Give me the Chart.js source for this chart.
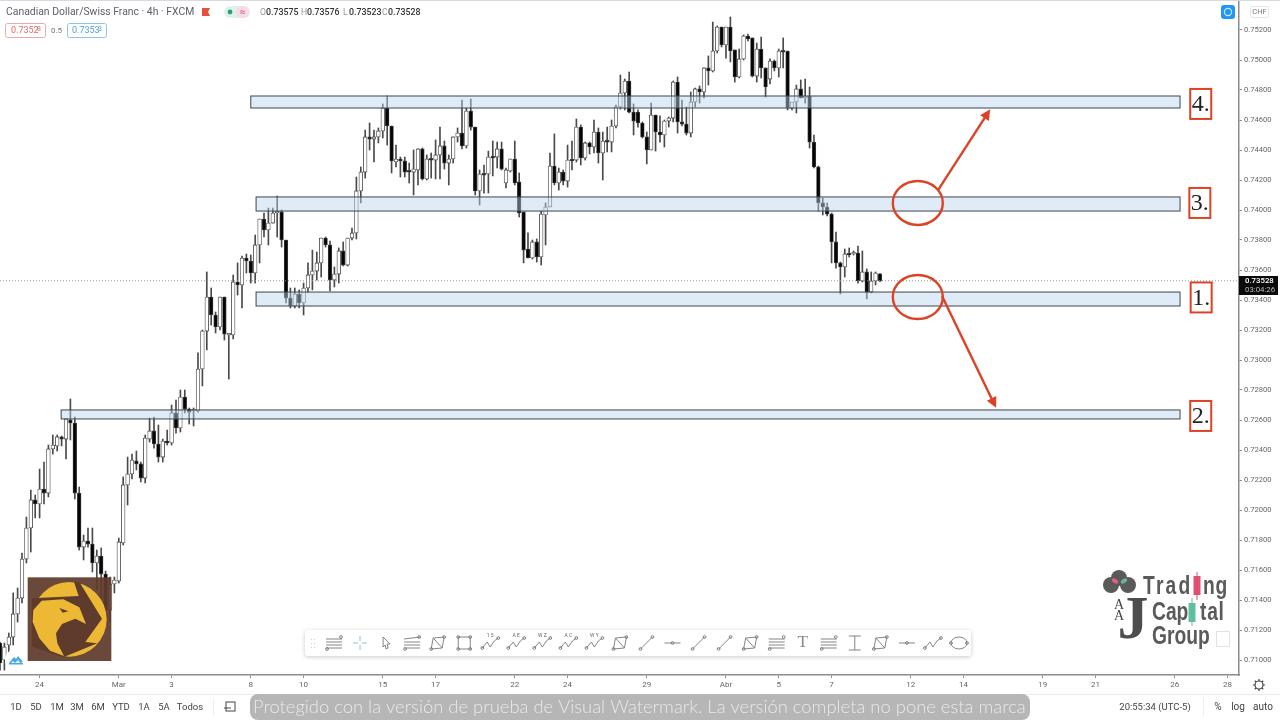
<!DOCTYPE html>
<html>
<head>
<meta charset="utf-8">
<title>CAD/CHF 4h</title>
<script src="https://cdn.jsdelivr.net/npm/chart.js@4"></script>
<style>
  html, body { margin: 0; padding: 0; background: #fff; overflow: hidden; }
  canvas { display: block; }
</style>
</head>
<body>
<canvas id="chart" width="1280" height="720"></canvas>
<script>
// === CANDLE DATA ===
const opens = [
  0.71113,0.71000,0.71100,0.71153,0.71307,0.71413,0.71673,0.71880,0.72067,0.72040,
  0.72140,0.72113,0.72407,0.72427,0.72487,0.72473,0.72600,0.72580,0.72113,0.71753,
  0.71793,0.71773,0.71647,0.71693,0.71573,0.71333,0.71507,0.71527,0.71780,0.72167,
  0.72240,0.72327,0.72307,0.72213,0.72473,0.72527,0.72440,0.72353,0.72460,0.72447,
  0.72647,0.72547,0.72753,0.72673,0.72660,0.72660,0.72940,0.73193,0.73420,0.73300,
  0.73220,0.73420,0.73167,0.73167,0.73520,0.73500,0.73680,0.73660,0.73580,0.73767,
  0.73940,0.73867,0.73913,0.73980,0.73987,0.73800,0.73413,0.73360,0.73440,0.73380,
  0.73480,0.73567,0.73593,0.73647,0.73813,0.73767,0.73533,0.73573,0.73727,0.73633,
  0.73813,0.73847,0.74127,0.74253,0.74487,0.74473,0.74487,0.74527,0.74680,0.74560,
  0.74320,0.74340,0.74327,0.74260,0.74253,0.74267,0.74407,0.74207,0.74340,0.74333,
  0.74367,0.74427,0.74313,0.74340,0.74487,0.74513,0.74427,0.74660,0.74553,0.74127,
  0.74240,0.74240,0.74353,0.74353,0.74407,0.74180,0.74260,0.74340,0.74187,0.73987,
  0.73740,0.73680,0.73787,0.73687,0.73967,0.74020,0.74293,0.74180,0.74253,0.74193,
  0.74333,0.74333,0.74553,0.74347,0.74447,0.74420,0.74520,0.74380,0.74460,0.74453,
  0.74560,0.74687,0.74780,0.74860,0.74653,0.74653,0.74580,0.74487,0.74400,0.74633,
  0.74520,0.74500,0.74593,0.74613,0.74853,0.74587,0.74573,0.74513,0.74720,0.74807,
  0.74787,0.74947,0.74927,0.75060,0.75220,0.75100,0.75220,0.75067,0.74887,0.75007,
  0.75160,0.75147,0.74893,0.75073,0.74947,0.74873,0.74993,0.74947,0.75060,0.75060,
  0.74680,0.74720,0.74807,0.74747,0.74760,0.74453,0.74287,0.74047,0.74020,0.73973,
  0.73787,0.73647,0.73620,0.73707,0.73707,0.73713,0.73527,0.73587,0.73453,0.73527,
  0.73575
];
const highs = [
  0.71120,0.71113,0.71180,0.71447,0.71480,0.71713,0.71953,0.72133,0.72100,0.72273,
  0.72320,0.72433,0.72500,0.72500,0.72493,0.72607,0.72740,0.72620,0.72153,0.71833,
  0.71880,0.71880,0.71733,0.71747,0.71593,0.71553,0.71553,0.71813,0.72220,0.72353,
  0.72373,0.72393,0.72320,0.72500,0.72613,0.72620,0.72567,0.72473,0.72533,0.72700,
  0.72733,0.72800,0.72800,0.72680,0.72680,0.73047,0.73200,0.73587,0.73480,0.73320,
  0.73420,0.73420,0.73173,0.73567,0.73647,0.73693,0.73707,0.73700,0.73833,0.73940,
  0.73980,0.74013,0.74013,0.74093,0.74000,0.73800,0.73480,0.73480,0.73467,0.73513,
  0.73647,0.73733,0.73720,0.73813,0.73820,0.73793,0.73620,0.73747,0.73787,0.73813,
  0.73880,0.74220,0.74287,0.74533,0.74580,0.74533,0.74547,0.74707,0.74760,0.74560,
  0.74433,0.74353,0.74353,0.74313,0.74400,0.74407,0.74413,0.74367,0.74380,0.74467,
  0.74553,0.74460,0.74367,0.74487,0.74547,0.74733,0.74680,0.74740,0.74553,0.74267,
  0.74300,0.74393,0.74460,0.74453,0.74453,0.74280,0.74340,0.74460,0.74247,0.73987,
  0.73847,0.73800,0.73807,0.73993,0.74047,0.74380,0.74507,0.74280,0.74267,0.74433,
  0.74460,0.74607,0.74567,0.74453,0.74453,0.74600,0.74547,0.74520,0.74553,0.74600,
  0.74700,0.74900,0.74873,0.74920,0.74707,0.74667,0.74587,0.74520,0.74713,0.74633,
  0.74627,0.74600,0.74620,0.74860,0.74887,0.74733,0.74687,0.74787,0.74813,0.74827,
  0.74947,0.75027,0.75253,0.75227,0.75220,0.75220,0.75287,0.75067,0.75073,0.75167,
  0.75173,0.75147,0.75113,0.75153,0.74947,0.75007,0.75000,0.75073,0.75147,0.75060,
  0.74720,0.74833,0.74867,0.74873,0.74820,0.74500,0.74293,0.74080,0.74047,0.73980,
  0.73853,0.73653,0.73740,0.73747,0.73727,0.73760,0.73727,0.73607,0.73587,0.73587,
  0.73576
];
const lows = [
  0.70933,0.70933,0.71053,0.71100,0.71253,0.71380,0.71647,0.71720,0.71947,0.71947,
  0.72040,0.72087,0.72373,0.72393,0.72427,0.72340,0.72467,0.72073,0.71733,0.71667,
  0.71753,0.71587,0.71467,0.71400,0.71280,0.71253,0.71447,0.71513,0.71767,0.72033,
  0.72207,0.72267,0.72187,0.72180,0.72453,0.72413,0.72320,0.72320,0.72433,0.72433,
  0.72513,0.72520,0.72647,0.72573,0.72560,0.72653,0.72827,0.73067,0.73233,0.73180,
  0.73200,0.73133,0.72873,0.73140,0.73433,0.73347,0.73580,0.73513,0.73513,0.73647,
  0.73820,0.73767,0.73913,0.73820,0.73753,0.73380,0.73347,0.73347,0.73347,0.73300,
  0.73453,0.73467,0.73533,0.73553,0.73753,0.73460,0.73487,0.73513,0.73627,0.73627,
  0.73800,0.73807,0.74047,0.74213,0.74400,0.74320,0.74447,0.74480,0.74433,0.74247,
  0.74287,0.74220,0.74220,0.74180,0.74100,0.74167,0.74200,0.74200,0.74213,0.74207,
  0.74207,0.74273,0.74167,0.74313,0.74453,0.74407,0.74413,0.74533,0.74100,0.74033,
  0.74113,0.74113,0.74227,0.74280,0.74267,0.74147,0.74253,0.74167,0.73953,0.73647,
  0.73680,0.73673,0.73653,0.73633,0.73767,0.74020,0.74167,0.74133,0.74167,0.74153,
  0.74267,0.74320,0.74300,0.74333,0.74373,0.74380,0.74313,0.74200,0.74387,0.74387,
  0.74547,0.74673,0.74667,0.74647,0.74500,0.74553,0.74480,0.74307,0.74400,0.74393,
  0.74453,0.74420,0.74553,0.74587,0.74513,0.74560,0.74500,0.74487,0.74687,0.74713,
  0.74747,0.74833,0.74920,0.75047,0.75087,0.75013,0.74987,0.74853,0.74880,0.75000,
  0.75127,0.74887,0.74853,0.74880,0.74753,0.74840,0.74927,0.74887,0.74947,0.74667,
  0.74667,0.74647,0.74747,0.74713,0.74413,0.74280,0.73993,0.73967,0.73960,0.73647,
  0.73613,0.73440,0.73553,0.73687,0.73700,0.73513,0.73520,0.73407,0.73447,0.73500,
  0.73523
];
const closes = [
  0.70980,0.71087,0.71153,0.71307,0.71413,0.71673,0.71880,0.72067,0.72040,0.72140,
  0.72113,0.72407,0.72433,0.72487,0.72473,0.72607,0.72580,0.72113,0.71753,0.71793,
  0.71773,0.71647,0.71693,0.71573,0.71333,0.71507,0.71533,0.71787,0.72167,0.72240,
  0.72333,0.72307,0.72213,0.72480,0.72527,0.72440,0.72353,0.72460,0.72447,0.72647,
  0.72547,0.72753,0.72673,0.72653,0.72667,0.72940,0.73193,0.73420,0.73300,0.73220,
  0.73420,0.73173,0.73173,0.73520,0.73500,0.73680,0.73660,0.73580,0.73767,0.73940,
  0.73867,0.73913,0.73980,0.73987,0.73800,0.73413,0.73360,0.73440,0.73380,0.73480,
  0.73567,0.73593,0.73647,0.73813,0.73767,0.73533,0.73573,0.73727,0.73633,0.73813,
  0.73847,0.74127,0.74253,0.74487,0.74473,0.74487,0.74527,0.74680,0.74560,0.74327,
  0.74340,0.74327,0.74253,0.74253,0.74273,0.74407,0.74207,0.74340,0.74333,0.74367,
  0.74427,0.74313,0.74340,0.74487,0.74513,0.74427,0.74660,0.74553,0.74127,0.74240,
  0.74233,0.74353,0.74347,0.74407,0.74273,0.74267,0.74340,0.74180,0.73980,0.73733,
  0.73680,0.73787,0.73687,0.73973,0.74020,0.74293,0.74180,0.74253,0.74193,0.74333,
  0.74327,0.74553,0.74347,0.74447,0.74420,0.74520,0.74380,0.74460,0.74453,0.74560,
  0.74687,0.74780,0.74860,0.74653,0.74593,0.74580,0.74487,0.74400,0.74633,0.74520,
  0.74500,0.74593,0.74613,0.74853,0.74587,0.74573,0.74513,0.74720,0.74807,0.74787,
  0.74947,0.74927,0.75060,0.75220,0.75100,0.75220,0.75060,0.74887,0.75007,0.75160,
  0.75140,0.74893,0.75073,0.74947,0.74820,0.74993,0.74947,0.75060,0.75053,0.74680,
  0.74720,0.74807,0.74747,0.74760,0.74453,0.74287,0.74047,0.74020,0.73973,0.73787,
  0.73647,0.73620,0.73707,0.73700,0.73713,0.73527,0.73587,0.73453,0.73527,0.73580,
  0.73528
];

// === AXES ===
const priceTicks = [0.752,0.750,0.748,0.746,0.744,0.742,0.740,0.738,0.736,0.734,0.732,0.730,0.728,0.726,0.724,0.722,0.720,0.718,0.716,0.714,0.712,0.710];
const barTicks = [9,27,39,57,69,87,99,117,129,147,165,177,189,207,219,237,249,267,279];
const barTickLabels = ["24","Mar","3","8","10","15","17","22","24","29","Abr","5","7","12","14","19","21","26","28"];
const lastPrice = 0.73528;

// === DRAWINGS ON THE CHART (price zones, red marks) ===
const zoneFromBar = [57, 58.2, 58.2, 13.9];
const zoneToBar = 268.2;
const zoneHigh = [0.74760, 0.74087, 0.73453, 0.72667];
const zoneLow = [0.74680, 0.73993, 0.73360, 0.72607];
const zoneNames = ["4.", "3.", "1.", "2."];
const zoneNameBar = [272.9, 272.7, 273, 272.9];
const zoneNamePrice = [0.74707, 0.74047, 0.73417, 0.72627];
const circleBar = [208.6, 208.6];
const circlePrice = [0.74047, 0.73420];
const arrowBars = [[213.2, 224.8], [214.1, 226.2]];
const arrowPrices = [[0.74133, 0.74660], [0.73427, 0.72693]];

const RED = "#dc4326";
const FONT = "Roboto, sans-serif";

const bodies = opens.map((o, i) => ({ x: i, y: [o, closes[i]] }));
const wicks = lows.map((l, i) => ({ x: i, y: [l, highs[i]] }));

function text(ctx, s, x, y, font, color, align) {
  ctx.font = font;
  ctx.fillStyle = color;
  ctx.textAlign = align || "left";
  ctx.textBaseline = "middle";
  ctx.fillText(s, x, y);
}

// squeezed bold text for the logo, no narrow font is installed
function logoText(ctx, s, x, y, spacing) {
  ctx.save();
  ctx.translate(x, y);
  ctx.scale(0.74, 1);
  ctx.letterSpacing = spacing + "px";
  text(ctx, s, 0, 0, "bold 26px 'Liberation Sans', sans-serif", "#5a5a5a");
  ctx.restore();
}

function roundBox(ctx, x, y, w, h, r, fill, stroke) {
  ctx.beginPath();
  ctx.roundRect(x, y, w, h, r);
  if (fill) { ctx.fillStyle = fill; ctx.fill(); }
  if (stroke) { ctx.strokeStyle = stroke; ctx.stroke(); }
}

function path(ctx, pts, close) {
  ctx.beginPath();
  pts.forEach((p, i) => i ? ctx.lineTo(p[0], p[1]) : ctx.moveTo(p[0], p[1]));
  if (close) ctx.closePath();
}

// === ZONES, CIRCLES, ARROWS ===
const drawingsPlugin = {
  id: "drawings",
  afterDatasetsDraw(chart) {
    const { ctx, scales: { x, y } } = chart;
    ctx.save();

    // dotted last price line
    ctx.strokeStyle = "#8a8f98";
    ctx.lineWidth = 1;
    ctx.setLineDash([1, 2]);
    ctx.beginPath();
    ctx.moveTo(0, y.getPixelForValue(lastPrice));
    ctx.lineTo(1239, y.getPixelForValue(lastPrice));
    ctx.stroke();
    ctx.setLineDash([]);

    zoneHigh.forEach((h, i) => {
      const left = x.getPixelForValue(zoneFromBar[i]);
      const right = x.getPixelForValue(zoneToBar);
      const top = y.getPixelForValue(h);
      const bottom = y.getPixelForValue(zoneLow[i]);
      ctx.fillStyle = "rgba(186,214,240,0.46)";
      ctx.fillRect(left, top, right - left, bottom - top);
      ctx.strokeStyle = "#3c4650";
      ctx.lineWidth = 1;
      ctx.strokeRect(left, top, right - left, bottom - top);

      // numbered label
      const cx = x.getPixelForValue(zoneNameBar[i]);
      const cy = y.getPixelForValue(zoneNamePrice[i]);
      ctx.fillStyle = "#fff";
      ctx.fillRect(cx - 10.5, cy - 15, 21, 30);
      ctx.strokeStyle = RED;
      ctx.lineWidth = 2;
      ctx.strokeRect(cx - 10.5, cy - 15, 21, 30);
      text(ctx, zoneNames[i], cx, cy + 1, "24px 'Liberation Serif', serif", "#222", "center");
    });

    ctx.strokeStyle = RED;
    ctx.lineWidth = 2.4;
    circleBar.forEach((b, i) => {
      ctx.beginPath();
      ctx.ellipse(x.getPixelForValue(b), y.getPixelForValue(circlePrice[i]), 25, 22, 0, 0, Math.PI * 2);
      ctx.stroke();
    });

    arrowBars.forEach((b, i) => {
      const x0 = x.getPixelForValue(b[0]), x1 = x.getPixelForValue(b[1]);
      const y0 = y.getPixelForValue(arrowPrices[i][0]), y1 = y.getPixelForValue(arrowPrices[i][1]);
      const a = Math.atan2(y1 - y0, x1 - x0);
      ctx.strokeStyle = RED;
      ctx.fillStyle = RED;
      ctx.lineWidth = 2.4;
      ctx.beginPath();
      ctx.moveTo(x0, y0);
      ctx.lineTo(x1 - 6 * Math.cos(a), y1 - 6 * Math.sin(a));
      ctx.stroke();
      path(ctx, [
        [x1 + 2 * Math.cos(a), y1 + 2 * Math.sin(a)],
        [x1 - 10 * Math.cos(a - 0.55), y1 - 10 * Math.sin(a - 0.55)],
        [x1 - 10 * Math.cos(a + 0.55), y1 - 10 * Math.sin(a + 0.55)]
      ], true);
      ctx.fill();
    });
    ctx.restore();
  }
};

// === TOOLBAR ICONS ===
function node(ctx, x, y) {
  ctx.beginPath();
  ctx.arc(x, y, 1.4, 0, Math.PI * 2);
  ctx.stroke();
}
function icon(ctx, kind, x, y) {
  ctx.strokeStyle = kind === "cross" ? "#7fb7e0" : "#777";
  ctx.fillStyle = "#777";
  ctx.lineWidth = 0.9;
  if (kind === "lines" || kind === "fan") {
    [-4, -1, 2, 5].forEach((d, i) => {
      path(ctx, [[x - 8, y + d], [x + 8, y + (kind === "fan" && i < 1 ? d - 2 : d)]]);
      ctx.stroke();
    });
    node(ctx, x + 7, y - 6);
    node(ctx, x - 7, y + 6);
  } else if (kind === "cross") {
    [[[x - 7, y], [x - 2, y]], [[x + 2, y], [x + 7, y]], [[x, y - 7], [x, y - 2]], [[x, y + 2], [x, y + 7]]].forEach(s => {
      path(ctx, s);
      ctx.stroke();
    });
  } else if (kind === "arrow") {
    path(ctx, [[x - 3, y - 6], [x + 4, y + 1], [x + 1, y + 1], [x + 2, y + 5], [x, y + 6], [x - 1, y + 2], [x - 3, y + 4]], true);
    ctx.stroke();
  } else if (kind === "poly") {
    path(ctx, [[x - 5, y - 5], [x + 6, y - 6], [x + 4, y + 5], [x - 7, y + 6]], true);
    ctx.stroke();
    path(ctx, [[x - 5, y - 5], [x + 4, y + 5]]);
    ctx.stroke();
    node(ctx, x + 6, y - 6);
    node(ctx, x - 7, y + 6);
  } else if (kind === "rect") {
    ctx.strokeRect(x - 6, y - 6, 12, 12);
    [[-6, -6], [6, -6], [-6, 6], [6, 6]].forEach(p => node(ctx, x + p[0], y + p[1]));
  } else if (kind === "zig" || kind === "wave") {
    path(ctx, [[x - 8, y + 5], [x - 3, y - 1], [x, y + 4], [x + 4, y - 2], [x + 8, y - 5]]);
    ctx.stroke();
    node(ctx, x - 8, y + 5);
    node(ctx, x + 8, y - 5);
  } else if (kind === "seg") {
    path(ctx, [[x - 6, y + 6], [x + 6, y - 6]]);
    ctx.stroke();
    node(ctx, x - 6, y + 6);
    node(ctx, x + 6, y - 6);
  } else if (kind === "dash") {
    path(ctx, [[x - 8, y], [x + 8, y]]);
    ctx.stroke();
    node(ctx, x, y);
  } else if (kind === "beam") {
    path(ctx, [[x - 6, y - 7], [x + 6, y - 7]]);
    ctx.stroke();
    path(ctx, [[x - 6, y + 7], [x + 6, y + 7]]);
    ctx.stroke();
    path(ctx, [[x, y - 7], [x, y + 7]]);
    ctx.stroke();
  } else if (kind === "text") {
    text(ctx, "T", x, y, "300 17px 'Liberation Serif', serif", "#888", "center");
  } else if (kind === "oval") {
    ctx.beginPath();
    ctx.ellipse(x, y, 8, 6, 0, 0, Math.PI * 2);
    ctx.stroke();
    node(ctx, x - 8, y);
    node(ctx, x + 8, y);
  }
}
const toolbarIcons = ["lines","cross","arrow","fan","poly","rect","zig","zig","zig","zig","zig","poly","seg","dash","seg","seg","poly","lines","text","lines","beam","poly","dash","wave","oval"];
const toolbarLetters = ["","","","","","","1 5","A E","W Z","A C","W Y","","","","","","","","","","","","","",""];

// === EVERYTHING AROUND THE CHART ===
const chromePlugin = {
  id: "chrome",
  afterDraw(chart) {
    const { ctx } = chart;
    ctx.save();

    // top edge
    ctx.fillStyle = "#d8d9dc";
    ctx.fillRect(0, 0, 1280, 1);

    // header
    text(ctx, "Canadian Dollar/Swiss Franc · 4h · FXCM", 6, 12, "10.4px " + FONT, "#5d606b");
    path(ctx, [[202, 8], [210, 8], [208, 12], [210, 16], [202, 16]], true);
    ctx.fillStyle = "#e5503f";
    ctx.fill();
    roundBox(ctx, 224, 6, 26, 12, 6, "#dff1ec");
    roundBox(ctx, 236, 6, 13, 12, 6, "#f9dbe3");
    ctx.beginPath();
    ctx.arc(230, 12, 2.4, 0, Math.PI * 2);
    ctx.fillStyle = "#26a17b";
    ctx.fill();
    text(ctx, "≈", 242.5, 12, "10px " + FONT, "#d9486e", "center");

    const ohlc = [["O", "0.73575", 260], ["H", "0.73576", 301], ["L", "0.73523", 343], ["C", "0.73528", 382]];
    ohlc.forEach(v => {
      text(ctx, v[0], v[2], 12.5, "8.6px " + FONT, "#9598a1");
      text(ctx, v[1], v[2] + 6, 12.5, "500 8.8px " + FONT, "#333");
    });

    ctx.lineWidth = 1;
    roundBox(ctx, 5.5, 23.5, 40, 14, 2, "#fff", "#eaa8a8");
    text(ctx, "0.7352", 11, 30.5, "9px " + FONT, "#d96b6b");
    text(ctx, "8", 37, 29.5, "7px " + FONT, "#d96b6b");
    text(ctx, "0.5", 51, 30.5, "8px " + FONT, "#777");
    roundBox(ctx, 67.5, 23.5, 39, 14, 2, "#fff", "#8fc4e8");
    text(ctx, "0.7353", 72, 30.5, "9px " + FONT, "#4f9fd6");
    text(ctx, "3", 98, 29.5, "7px " + FONT, "#4f9fd6");

    // top right buttons
    roundBox(ctx, 1221, 5, 14, 14, 3, "#2196f3");
    ctx.strokeStyle = "#cfe8fb";
    ctx.lineWidth = 1.2;
    ctx.beginPath();
    ctx.arc(1228, 12, 3.6, 0, Math.PI * 2);
    ctx.stroke();
    ctx.lineWidth = 1;
    roundBox(ctx, 1250.5, 6.5, 18, 11, 2, "#fff", "#e4e5e8");
    text(ctx, "CHF", 1259.5, 12, "7.5px " + FONT, "#777", "center");

    // last price label
    ctx.fillStyle = "#0a0a0a";
    ctx.fillRect(1239, 276, 39, 19);
    text(ctx, "0.73528", 1245, 281, "500 7.8px " + FONT, "#fff");
    text(ctx, "03:04:26", 1245, 290, "7.8px " + FONT, "#bbb");

    // eagle logo (drawn in a 3x grid)
    ctx.save();
    ctx.translate(0, 380);
    ctx.scale(1 / 3, 1 / 3);
    ctx.globalAlpha = 0.93;
    ctx.fillStyle = "#5f3b2c";
    ctx.fillRect(83, 592, 251, 251);
    ctx.globalAlpha = 1;
    ctx.fillStyle = "#edb934";
    ctx.beginPath();
    ctx.arc(208, 718, 112, 0, Math.PI * 2);
    ctx.fill();
    ctx.fillStyle = "#5f3b2c";
    path(ctx, [[96, 655], [236, 648], [222, 606], [238, 606], [306, 716], [256, 786], [292, 790], [190, 832], [96, 800]], true);
    ctx.fill();
    ctx.fillStyle = "#edb934";
    path(ctx, [[100, 690], [125, 662], [190, 658], [238, 682], [258, 732], [226, 716], [186, 732], [168, 760], [172, 790], [192, 828], [150, 812], [118, 775], [98, 725]], true);
    ctx.fill();
    ctx.fillStyle = "#5f3b2c";
    path(ctx, [[178, 684], [205, 694], [188, 698]], true);
    ctx.fill();
    ctx.restore();

    // small blue mark bottom left
    ctx.fillStyle = "#fff";
    ctx.beginPath();
    ctx.arc(16, 660, 11, 0, Math.PI * 2);
    ctx.fill();
    ctx.fillStyle = "#47a8e8";
    path(ctx, [[9, 663], [14, 657], [16, 659], [18, 656], [23, 662], [20, 663], [18, 660], [15, 663], [13, 661], [11, 663]], true);
    ctx.fill();
    ctx.fillRect(9, 663, 14, 1.5);

    // trading capital group logo
    ctx.fillStyle = "#5a5a5a";
    [[1119, 578], [1111, 585], [1128, 585]].forEach(c => {
      ctx.beginPath();
      ctx.arc(c[0], c[1], 8, 0, Math.PI * 2);
      ctx.fill();
    });
    ctx.fillStyle = "#e0627f";
    ctx.beginPath();
    ctx.ellipse(1115, 581, 3.5, 2, 0.6, 0, Math.PI * 2);
    ctx.fill();
    ctx.fillStyle = "#63b89c";
    ctx.beginPath();
    ctx.ellipse(1124, 581, 3.5, 2, -0.6, 0, Math.PI * 2);
    ctx.fill();
    logoText(ctx, "Trad", 1143, 587, 3);
    logoText(ctx, "ng", 1203, 587, 1);
    logoText(ctx, "Cap", 1152, 613, 0);
    logoText(ctx, "tal", 1200, 613, 1);
    logoText(ctx, "Group", 1152, 637, 0);
    ctx.fillStyle = "#e0506f";
    ctx.fillRect(1193.5, 576, 7, 19);
    ctx.fillRect(1196.5, 572, 1, 28);
    ctx.fillStyle = "#5fbf9f";
    ctx.fillRect(1188.5, 603, 7, 19);
    ctx.fillRect(1191.5, 598, 1, 28);
    text(ctx, "J", 1133, 622, "bold 62px 'Liberation Serif', serif", "#4d4d4d", "center");
    text(ctx, "A", 1119, 605, "14px 'Liberation Serif', serif", "#444", "center");
    text(ctx, "A", 1119, 616, "14px 'Liberation Serif', serif", "#444", "center");
    ctx.strokeStyle = "#e2e2e2";
    ctx.lineWidth = 1;
    ctx.strokeRect(1216.5, 631.5, 13, 15);

    // toolbar
    ctx.shadowColor = "rgba(0,0,0,0.22)";
    ctx.shadowBlur = 4;
    ctx.shadowOffsetY = 1;
    roundBox(ctx, 305, 630, 666, 26, 3, "#fff");
    ctx.shadowColor = "transparent";
    ctx.shadowBlur = 0;
    ctx.shadowOffsetY = 0;
    ctx.fillStyle = "#ccc";
    [[311, 639], [314, 639], [311, 643], [314, 643], [311, 647], [314, 647]].forEach(p => ctx.fillRect(p[0], p[1], 1, 1));
    toolbarIcons.forEach((k, i) => {
      const ix = 334 + i * 26.04;
      icon(ctx, k, ix, 643);
      if (toolbarLetters[i]) text(ctx, toolbarLetters[i], ix, 635.5, "5px " + FONT, "#666", "center");
    });

    // gear
    ctx.strokeStyle = "#444";
    ctx.lineWidth = 1.2;
    ctx.beginPath();
    ctx.arc(1259, 685, 4, 0, Math.PI * 2);
    ctx.stroke();
    for (let a = 0; a < 8; a++) {
      const c = Math.cos(a * Math.PI / 4), s = Math.sin(a * Math.PI / 4);
      path(ctx, [[1259 + 4 * c, 685 + 4 * s], [1259 + 6 * c, 685 + 6 * s]]);
      ctx.stroke();
    }

    // bottom bar
    ctx.fillStyle = "#e8e9eb";
    ctx.fillRect(0, 694, 1280, 1);
    const ranges = [["1D", 16], ["5D", 36], ["1M", 57], ["3M", 77], ["6M", 98], ["YTD", 121], ["1A", 144], ["5A", 164], ["Todos", 190]];
    ranges.forEach(r => text(ctx, r[0], r[1], 707.5, "9.5px " + FONT, "#444", "center"));
    ctx.fillStyle = "#eee";
    ctx.fillRect(213, 698, 1, 18);
    ctx.strokeStyle = "#444";
    ctx.lineWidth = 1;
    ctx.strokeRect(226, 702, 9, 9);
    path(ctx, [[224, 708], [231, 708]]);
    ctx.stroke();

    roundBox(ctx, 250, 694, 780, 26, 8, "#b6b6b6");
    text(ctx, "Protegido con la versión de prueba de Visual Watermark. La versión completa no pone esta marca", 253, 707.5, "300 18.4px Lato, sans-serif", "#e9e9e9");

    text(ctx, "20:55:34 (UTC-5)", 1155, 707.5, "9.5px " + FONT, "#444", "center");
    ctx.fillStyle = "#eee";
    ctx.fillRect(1203, 698, 1, 18);
    text(ctx, "%", 1218, 707.5, "10px " + FONT, "#444", "center");
    text(ctx, "log", 1238, 707.5, "10px " + FONT, "#444", "center");
    text(ctx, "auto", 1263, 707.5, "10px " + FONT, "#444", "center");

    ctx.restore();
  }
};

// === CANDLE CHART ===
new Chart(document.getElementById("chart"), {
  type: "bar",
  data: {
    datasets: [
      {
        label: "Body",
        data: bodies,
        barThickness: 3.7,
        minBarLength: 1.6,
        grouped: false,
        borderSkipped: false,
        borderWidth: 0.8,
        borderColor: "#444",
        backgroundColor: opens.map((o, i) => closes[i] >= o ? "#ffffff" : "#050505")
      },
      {
        label: "Wick",
        data: wicks,
        barThickness: 1,
        grouped: false,
        borderSkipped: false,
        backgroundColor: "#4a4a4a"
      }
    ]
  },
  options: {
    responsive: false,
    animation: false,
    events: [],
    layout: { padding: { bottom: 25 } },
    plugins: { legend: { display: false }, tooltip: { enabled: false } },
    scales: {
      x: {
        type: "linear",
        offset: false,
        bounds: "data",
        min: 0,
        max: 281.6,
        afterFit: s => { s.height = 20; s.paddingLeft = 0; s.paddingRight = 0; },
        afterBuildTicks: s => { s.ticks = barTicks.map(v => ({ value: v })); },
        border: { color: "#8a8c92", width: 1.5 },
        grid: { offset: false, drawOnChartArea: false, tickLength: 3, color: "#8a8c92" },
        ticks: {
          autoSkip: false,
          maxRotation: 0,
          padding: 2,
          color: "#666",
          font: { family: "Roboto", size: 8 },
          callback: v => barTickLabels[barTicks.indexOf(v)]
        }
      },
      y: {
        position: "right",
        min: 0.709,
        max: 0.754,
        bounds: "data",
        afterFit: s => { s.width = 41; s.paddingTop = 0; s.paddingBottom = 0; },
        afterBuildTicks: s => { s.ticks = priceTicks.map(v => ({ value: v })); },
        border: { color: "#8a8c92", width: 1.5 },
        grid: { drawOnChartArea: false, tickLength: 3, color: "#8a8c92" },
        ticks: {
          autoSkip: false,
          padding: 2,
          color: "#666",
          font: { family: "Roboto", size: 7.6 },
          callback: v => v.toFixed(5)
        }
      }
    }
  },
  plugins: [drawingsPlugin, chromePlugin]
});
</script>
</body>
</html>
